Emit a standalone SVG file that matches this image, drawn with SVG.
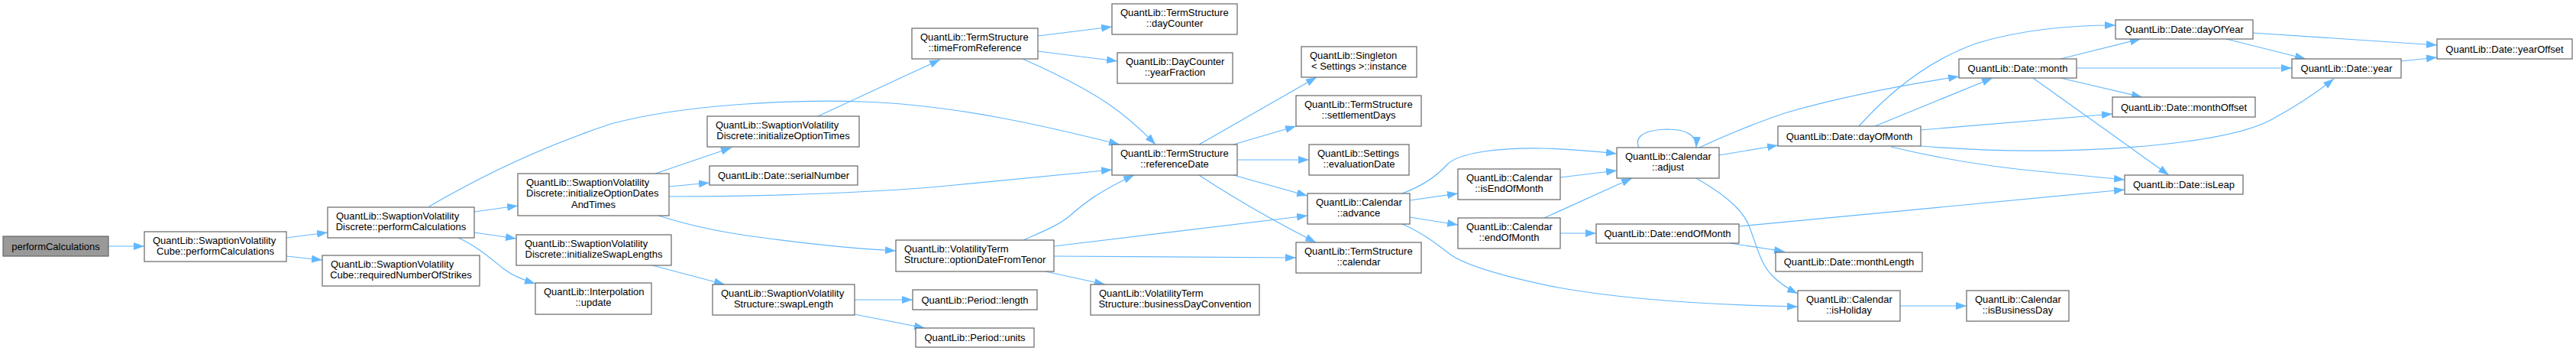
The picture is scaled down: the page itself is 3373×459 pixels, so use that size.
<svg xmlns="http://www.w3.org/2000/svg" width="3373" height="459" viewBox="0 0 3373 459">
<style>
.node rect{fill:#ffffff;stroke:#666666;stroke-width:1.2}
.root rect{fill:#999999}
text{font-family:"Liberation Sans",Arial,Helvetica,sans-serif;font-size:13px;fill:#000000}
.m{text-anchor:middle}
.s{text-anchor:start}
.edges path{fill:none;stroke:#63b8ff;stroke-width:1.2;marker-end:url(#ah)}
</style>
<defs>
<marker id="ah" markerUnits="userSpaceOnUse" markerWidth="14" markerHeight="10" refX="14" refY="5" orient="auto">
<path d="M0,0 L14,5 L0,10 Z" fill="#63b8ff" stroke="none"/>
</marker>
</defs>
<rect x="0" y="0" width="3373" height="459" fill="#ffffff"/>
<g class="edges">
<path d="M142,322 L189,322"/>
<path d="M375,311 L429,304"/>
<path d="M375,335 L422,340"/>
<path d="M621,277 L678,269"/>
<path d="M621,304 L676,312"/>
<path d="M600,311 C625,322 645,340 660,352 C672,361 685,366 701,371"/>
<path d="M562,270 C620,236 700,195 800,162 C900,135 1050,130 1130,133 C1250,137 1370,165 1466,189"/>
<path d="M858,227 L958,193"/>
<path d="M876,244 L929,239"/>
<path d="M876,257 C1000,257 1150,252 1250,242 C1330,234 1400,227 1456,222"/>
<path d="M862,282 C900,294 950,305 1000,311 C1060,319 1120,325 1173,328"/>
<path d="M1071,152 L1231,78"/>
<path d="M854,347 L949,372"/>
<path d="M1119,392 L1195,392"/>
<path d="M1119,411 L1211,429"/>
<path d="M1359,47 L1456,35"/>
<path d="M1359,67 L1463,80"/>
<path d="M1339,77 C1380,95 1420,115 1450,135 C1475,152 1495,170 1513,189"/>
<path d="M1340,314 C1365,303 1385,295 1400,283 C1420,265 1440,250 1485,229"/>
<path d="M1380,322 L1712,282"/>
<path d="M1380,335 L1697,337"/>
<path d="M1369,355 L1447,372"/>
<path d="M1570,189 L1724,101"/>
<path d="M1615,189 L1697,165"/>
<path d="M1621,209 L1714,209"/>
<path d="M1615,229 L1712,256"/>
<path d="M1570,229 C1620,262 1670,290 1723,317"/>
<path d="M1836,253 C1860,244 1880,232 1895,215 C1910,200 1960,193 2020,194 C2060,195 2090,198 2117,201"/>
<path d="M1846,262 L1909,253"/>
<path d="M1846,284 L1909,294"/>
<path d="M1836,293 C1860,303 1880,318 1898,332 C1920,348 1970,362 2040,376 C2130,392 2250,399 2354,401"/>
<path d="M2043,232 L2117,223"/>
<path d="M2022,285 L2137,233"/>
<path d="M2043,305 L2090,305"/>
<path d="M2146,193 C2140,180 2150,170 2183,169 C2210,169 2222,178 2221,193"/>
<path d="M2251,203 L2328,190"/>
<path d="M2225,193 C2260,177 2300,160 2340,147 C2420,124 2500,110 2565,100"/>
<path d="M2221,233 C2250,250 2280,270 2290,295 C2300,320 2305,345 2320,360 C2330,370 2340,377 2354,384"/>
<path d="M2277,296 L2782,248"/>
<path d="M2265,318 L2337,329"/>
<path d="M2488,400 L2575,400"/>
<path d="M2434,165 C2470,125 2520,80 2590,56 C2650,38 2710,33 2770,33"/>
<path d="M2455,165 L2609,102"/>
<path d="M2515,170 L2766,149"/>
<path d="M2515,191 C2600,198 2700,201 2820,190 C2900,182 2950,170 2975,156 C3010,137 3035,120 3056,103"/>
<path d="M2476,192 C2530,205 2600,218 2680,225 C2720,229 2750,232 2782,235"/>
<path d="M2698,77 L2803,51"/>
<path d="M2718,89 L3001,89"/>
<path d="M2698,102 L2805,127"/>
<path d="M2662,102 L2840,229"/>
<path d="M2915,51 L3019,77"/>
<path d="M2950,43 L3191,59"/>
<path d="M3144,80 L3191,75"/>
</g>
<g id="n_root" class="node root"><rect x="4" y="309" width="138" height="26"/><text class="m" x="73" y="326.5">performCalculations</text></g>
<g id="n_cube_pc" class="node"><rect x="189" y="303" width="186" height="39"/><text class="s" x="200" y="318.5">QuantLib::SwaptionVolatility</text><text class="m" x="282" y="333">Cube::performCalculations</text></g>
<g id="n_svd_pc" class="node"><rect x="429" y="271" width="192" height="40"/><text class="s" x="440" y="286.5">QuantLib::SwaptionVolatility</text><text class="m" x="525" y="301">Discrete::performCalculations</text></g>
<g id="n_cube_rns" class="node"><rect x="422" y="334" width="206" height="40"/><text class="s" x="433" y="349.5">QuantLib::SwaptionVolatility</text><text class="m" x="525" y="364">Cube::requiredNumberOfStrikes</text></g>
<g id="n_iodt" class="node"><rect x="678" y="227" width="198" height="55"/><text class="s" x="689" y="242.5">QuantLib::SwaptionVolatility</text><text class="s" x="689" y="257">Discrete::initializeOptionDates</text><text class="m" x="777" y="271.5">AndTimes</text></g>
<g id="n_isl" class="node"><rect x="676" y="307" width="203" height="40"/><text class="s" x="687" y="322.5">QuantLib::SwaptionVolatility</text><text class="m" x="777.5" y="337">Discrete::initializeSwapLengths</text></g>
<g id="n_interp" class="node"><rect x="701" y="370" width="152" height="41"/><text class="s" x="712" y="385.5">QuantLib::Interpolation</text><text class="m" x="777" y="400">::update</text></g>
<g id="n_iot" class="node"><rect x="926" y="152" width="199" height="40"/><text class="s" x="937" y="167.5">QuantLib::SwaptionVolatility</text><text class="m" x="1025.5" y="182">Discrete::initializeOptionTimes</text></g>
<g id="n_serial" class="node"><rect x="929" y="217" width="194" height="25"/><text class="m" x="1026" y="234">QuantLib::Date::serialNumber</text></g>
<g id="n_swapLength" class="node"><rect x="933" y="372" width="186" height="40"/><text class="s" x="944" y="387.5">QuantLib::SwaptionVolatility</text><text class="m" x="1026" y="402">Structure::swapLength</text></g>
<g id="n_tfr" class="node"><rect x="1194" y="37" width="165" height="40"/><text class="s" x="1205" y="52.5">QuantLib::TermStructure</text><text class="m" x="1276.5" y="67">::timeFromReference</text></g>
<g id="n_dc" class="node"><rect x="1456" y="5" width="164" height="40"/><text class="s" x="1467" y="20.5">QuantLib::TermStructure</text><text class="m" x="1538" y="35">::dayCounter</text></g>
<g id="n_yf" class="node"><rect x="1463" y="69" width="151" height="40"/><text class="s" x="1474" y="84.5">QuantLib::DayCounter</text><text class="m" x="1538.5" y="99">::yearFraction</text></g>
<g id="n_refdate" class="node"><rect x="1456" y="189" width="164" height="40"/><text class="s" x="1467" y="204.5">QuantLib::TermStructure</text><text class="m" x="1538" y="219">::referenceDate</text></g>
<g id="n_odft" class="node"><rect x="1173" y="314" width="207" height="41"/><text class="s" x="1184" y="329.5">QuantLib::VolatilityTerm</text><text class="m" x="1276.5" y="344">Structure::optionDateFromTenor</text></g>
<g id="n_plength" class="node"><rect x="1195" y="379" width="163" height="26"/><text class="m" x="1276.5" y="396.5">QuantLib::Period::length</text></g>
<g id="n_punits" class="node"><rect x="1199" y="429" width="155" height="25"/><text class="m" x="1276.5" y="446">QuantLib::Period::units</text></g>
<g id="n_bdc" class="node"><rect x="1428" y="372" width="221" height="40"/><text class="s" x="1439" y="387.5">QuantLib::VolatilityTerm</text><text class="m" x="1538.5" y="402">Structure::businessDayConvention</text></g>
<g id="n_inst" class="node"><rect x="1704" y="61" width="151" height="40"/><text class="s" x="1715" y="76.5">QuantLib::Singleton</text><text class="m" x="1779.5" y="91">&lt; Settings &gt;::instance</text></g>
<g id="n_sd" class="node"><rect x="1697" y="125" width="164" height="40"/><text class="s" x="1708" y="140.5">QuantLib::TermStructure</text><text class="m" x="1779" y="155">::settlementDays</text></g>
<g id="n_eval" class="node"><rect x="1714" y="189" width="131" height="40"/><text class="s" x="1725" y="204.5">QuantLib::Settings</text><text class="m" x="1779.5" y="219">::evaluationDate</text></g>
<g id="n_adv" class="node"><rect x="1712" y="253" width="134" height="40"/><text class="s" x="1723" y="268.5">QuantLib::Calendar</text><text class="m" x="1779" y="283">::advance</text></g>
<g id="n_tscal" class="node"><rect x="1697" y="317" width="164" height="40"/><text class="s" x="1708" y="332.5">QuantLib::TermStructure</text><text class="m" x="1779" y="347">::calendar</text></g>
<g id="n_ieom" class="node"><rect x="1909" y="221" width="134" height="40"/><text class="s" x="1920" y="236.5">QuantLib::Calendar</text><text class="m" x="1976" y="251">::isEndOfMonth</text></g>
<g id="n_ceom" class="node"><rect x="1909" y="285" width="134" height="40"/><text class="s" x="1920" y="300.5">QuantLib::Calendar</text><text class="m" x="1976" y="315">::endOfMonth</text></g>
<g id="n_adj" class="node"><rect x="2117" y="193" width="134" height="40"/><text class="s" x="2128" y="208.5">QuantLib::Calendar</text><text class="m" x="2184" y="223">::adjust</text></g>
<g id="n_deom" class="node"><rect x="2090" y="293" width="187" height="25"/><text class="m" x="2183.5" y="310">QuantLib::Date::endOfMonth</text></g>
<g id="n_dom" class="node"><rect x="2328" y="165" width="187" height="26"/><text class="m" x="2421.5" y="182.5">QuantLib::Date::dayOfMonth</text></g>
<g id="n_month" class="node"><rect x="2565" y="77" width="154" height="25"/><text class="m" x="2642" y="94">QuantLib::Date::month</text></g>
<g id="n_ml" class="node"><rect x="2325" y="330" width="192" height="25"/><text class="m" x="2421" y="347">QuantLib::Date::monthLength</text></g>
<g id="n_hol" class="node"><rect x="2354" y="380" width="134" height="40"/><text class="s" x="2365" y="395.5">QuantLib::Calendar</text><text class="m" x="2421" y="410">::isHoliday</text></g>
<g id="n_bus" class="node"><rect x="2575" y="380" width="134" height="40"/><text class="s" x="2586" y="395.5">QuantLib::Calendar</text><text class="m" x="2642" y="410">::isBusinessDay</text></g>
<g id="n_doy" class="node"><rect x="2770" y="26" width="180" height="25"/><text class="m" x="2860" y="43">QuantLib::Date::dayOfYear</text></g>
<g id="n_mo" class="node"><rect x="2766" y="127" width="187" height="26"/><text class="m" x="2859.5" y="144.5">QuantLib::Date::monthOffset</text></g>
<g id="n_leap" class="node"><rect x="2782" y="229" width="155" height="25"/><text class="m" x="2859.5" y="246">QuantLib::Date::isLeap</text></g>
<g id="n_year" class="node"><rect x="3001" y="77" width="143" height="25"/><text class="m" x="3072.5" y="94">QuantLib::Date::year</text></g>
<g id="n_yo" class="node"><rect x="3191" y="51" width="177" height="26"/><text class="m" x="3279.5" y="68.5">QuantLib::Date::yearOffset</text></g>
</svg>
